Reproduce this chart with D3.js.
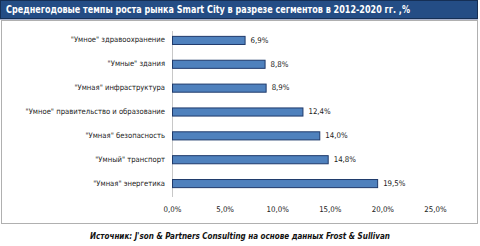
<!DOCTYPE html>
<html lang="ru">
<head>
  <meta charset="UTF-8">
  <script src="https://d3js.org/d3.v7.min.js"></script>
  <title>Smart City</title>
  <style>
    body { margin: 0; background: #fff; }
    svg text { font-family: "DejaVu Sans Condensed", "DejaVu Sans", Verdana, sans-serif; }
    .cat text { font-size: 7.6px; fill: #222; }
    .xaxis text { font-size: 7.8px; fill: #222; }
    .vals text { font-size: 7.8px; fill: #222; }
  </style>
</head>
<body>
  <svg></svg>
  <script>
    const WIDTH = 480
    const HEIGHT = 246

    const titleText = 'Среднегодовые темпы роста рынка Smart City в разрезе сегментов в 2012-2020 гг. ,%'
    const sourceText = 'Источник: J\'son & Partners Consulting на основе данных Frost & Sullivan'

    const categories = [
      '"Умное" здравоохранение',
      '"Умные" здания',
      '"Умная" инфраструктура',
      '"Умное" правительство и образование',
      '"Умная" безопасность',
      '"Умный" транспорт',
      '"Умная" энергетика'
    ]
    const values = [6.9, 8.8, 8.9, 12.4, 14.0, 14.8, 19.5]
    const ticks = [0, 5, 10, 15, 20, 25]

    const fmt = (v) => v.toFixed(1).replace('.', ',') + '%'

    const svg = d3.select('svg')
      .attr('width', WIDTH)
      .attr('height', HEIGHT)

    // title bar
    svg.append('rect')
      .attr('x', 0.5).attr('y', 0.5)
      .attr('width', 477).attr('height', 18)
      .attr('fill', '#244d85')
      .attr('stroke', '#152f55')
    svg.append('line')
      .attr('x1', 0).attr('x2', 478)
      .attr('y1', 19.5).attr('y2', 19.5)
      .attr('stroke', '#aab3cc')
    svg.append('text')
      .attr('x', 6).attr('y', 13)
      .attr('fill', '#fff')
      .attr('font-weight', 'bold')
      .attr('font-size', '9.8px')
      .attr('textLength', 404)
      .attr('lengthAdjust', 'spacingAndGlyphs')
      .text(titleText)

    // chart frame
    svg.append('rect')
      .attr('x', 1.5).attr('y', 20.5)
      .attr('width', 476).attr('height', 203)
      .attr('fill', 'none')
      .attr('stroke', '#b0b0b0')

    const x = d3.scaleLinear().domain([0, 25]).range([172, 435])
    const y = d3.scaleBand().domain(categories).range([28, 195]).paddingInner(0.66).paddingOuter(0.33)

    // axis line
    svg.append('line')
      .attr('x1', x(0) + 0.5).attr('x2', x(0) + 0.5)
      .attr('y1', 31).attr('y2', 197)
      .attr('stroke', '#c8c8c8')

    const xAxis = svg.append('g')
      .attr('class', 'xaxis')
      .attr('transform', 'translate(0,197)')
      .call(d3.axisBottom(x).tickValues(ticks).tickFormat(fmt).tickSize(0).tickPadding(9))
    xAxis.select('.domain').remove()

    const yAxis = svg.append('g')
      .attr('class', 'cat')
      .attr('transform', 'translate(' + (x(0) - 7) + ',0)')
      .call(d3.axisLeft(y).tickSize(0).tickPadding(0))
    yAxis.select('.domain').remove()

    svg.append('g')
      .selectAll('rect')
      .data(values)
      .enter().append('rect')
      .attr('x', x(0) + 0.5)
      .attr('y', (d, i) => y(categories[i]) + 0.5)
      .attr('width', (d) => x(d) - x(0))
      .attr('height', y.bandwidth())
      .attr('fill', '#4f81bd')
      .attr('stroke', '#1f3a6b')
      .attr('stroke-width', 1)

    svg.append('g')
      .attr('class', 'vals')
      .selectAll('text')
      .data(values)
      .enter().append('text')
      .attr('x', (d) => x(d) + 6)
      .attr('y', (d, i) => y(categories[i]) + y.bandwidth() / 2)
      .attr('dy', '0.35em')
      .text(fmt)

    svg.append('text')
      .attr('x', 240).attr('y', 239)
      .attr('text-anchor', 'middle')
      .attr('font-size', '8.8px')
      .attr('font-style', 'italic')
      .attr('font-weight', 'bold')
      .attr('fill', '#111')
      .attr('textLength', 300)
      .attr('lengthAdjust', 'spacingAndGlyphs')
      .text(sourceText)
  </script>
</body>
</html>
